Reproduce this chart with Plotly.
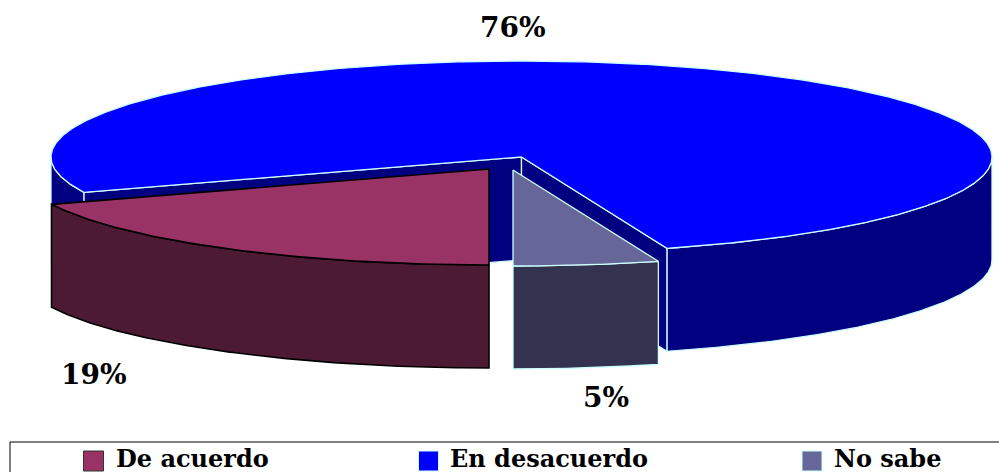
import numpy as np
import plotly.graph_objects as go

categories = ["De acuerdo", "En desacuerdo", "No sabe"]
values = [19, 76, 5]
label_texts = ["19%", "76%", "5%"]
top_colors = ["#993366", "#0000FF", "#666699"]
side_colors = ["#4D1A33", "#000080", "#333350"]
edge_colors = ["#000000", "#CCFFFF", "#CCFFFF"]
edge_widths = [1.6, 1.3, 1.3]

# pie geometry in pixels (axes are mapped 1:1 on the page)
centers = [(489, 169), (521.5, 157), (513, 170)]
RX, RY, DEPTH = 470.5, 96, 103
START = 180.0

label_pos = [(94, 374), (513, 27), (606, 397)]
legend_swatch_x = [93.5, 428.5, 812]
legend_text_x = [114, 448, 832]
LEGEND_Y = 458
SWATCH_Y = 461
FONT = "DejaVu Serif"

def rim(c, a0, a1):
    t = np.radians(np.linspace(a0, a1, max(int(abs(a1 - a0)) * 2, 2)))
    return c[0] + RX * np.sin(t), c[1] - RY * np.cos(t)

def add_poly(fig, xs, ys, fill, i, name):
    fig.add_trace(go.Scatter(x=np.append(xs, xs[0]), y=np.append(ys, ys[0]), mode="lines",
                             fill="toself", fillcolor=fill,
                             line=dict(color=edge_colors[i], width=edge_widths[i]), name=name,
                             hoverinfo="name", showlegend=False))

def add_wall(fig, c, a0, a1, i):
    x, y = rim(c, a0, a1)
    add_poly(fig, np.r_[x, x[::-1]], np.r_[y, y[::-1] + DEPTH], side_colors[i], i, categories[i])

def add_radial(fig, c, a, i):
    x, y = rim(c, a, a)
    x, y = x[0], y[0]
    add_poly(fig, np.array([c[0], x, x, c[0]]), np.array([c[1], y, y + DEPTH, c[1] + DEPTH]),
             side_colors[i], i, categories[i])

def add_top(fig, c, a0, a1, i):
    x, y = rim(c, a0, a1)
    add_poly(fig, np.r_[c[0], x], np.r_[c[1], y], top_colors[i], i, categories[i])

sweeps = [v / sum(values) * 360 for v in values]
a_ac0, a_ac1 = START, START + sweeps[0]
a_bl0, a_bl1 = a_ac1, a_ac1 + sweeps[1]
a_no0, a_no1 = a_bl1, a_bl1 + sweeps[2]

fig = go.Figure()

# En desacuerdo
c = centers[1]
add_wall(fig, c, a_bl0, 270, 1)
add_wall(fig, c, 450, a_bl1, 1)
add_radial(fig, c, a_bl0, 1)
add_radial(fig, c, a_bl1, 1)
add_top(fig, c, a_bl0, a_bl1, 1)

# No sabe
c = centers[2]
add_wall(fig, c, a_no0, a_no1, 2)
add_top(fig, c, a_no0, a_no1, 2)

# De acuerdo
c = centers[0]
add_wall(fig, c, a_ac0, a_ac1, 0)
add_top(fig, c, a_ac0, a_ac1, 0)

# Value labels
for (x, y), t in zip(label_pos, label_texts):
    fig.add_annotation(x=x, y=y, text=f"<b>{t}</b>", showarrow=False, xanchor="center", yanchor="middle",
                       font=dict(family=FONT, size=28, color="#000000"))

# Legend
fig.add_shape(type="rect", x0=10, x1=1005, y0=442, y1=480, line=dict(color="#000000", width=1), fillcolor="#FFFFFF", layer="below")
edge_legend = ["#333333", "#CCFFFF", "#CCFFFF"]
for i, name in enumerate(categories):
    fig.add_trace(go.Scatter(x=[legend_swatch_x[i]], y=[SWATCH_Y], mode="markers", showlegend=False, name=name,
                             hoverinfo="name",
                             marker=dict(symbol="square", size=20, color=top_colors[i],
                                         line=dict(color=edge_legend[i], width=1))))
    fig.add_annotation(x=legend_text_x[i], y=LEGEND_Y, text=f"<b>{name}</b>", showarrow=False,
                       xanchor="left", yanchor="middle",
                       font=dict(family=FONT, size=24, color="#000000"))

fig.update_layout(width=999, height=472, margin=dict(l=0, r=0, t=0, b=0),
                  paper_bgcolor="#FFFFFF", plot_bgcolor="#FFFFFF", showlegend=False,
                  xaxis=dict(range=[0, 999], visible=False, fixedrange=True),
                  yaxis=dict(range=[472, 0], visible=False, fixedrange=True))
fig.write_html("out.html", config=dict(displayModeBar=False),
               post_script="document.body.style.margin='0';document.documentElement.style.overflow='hidden';")
